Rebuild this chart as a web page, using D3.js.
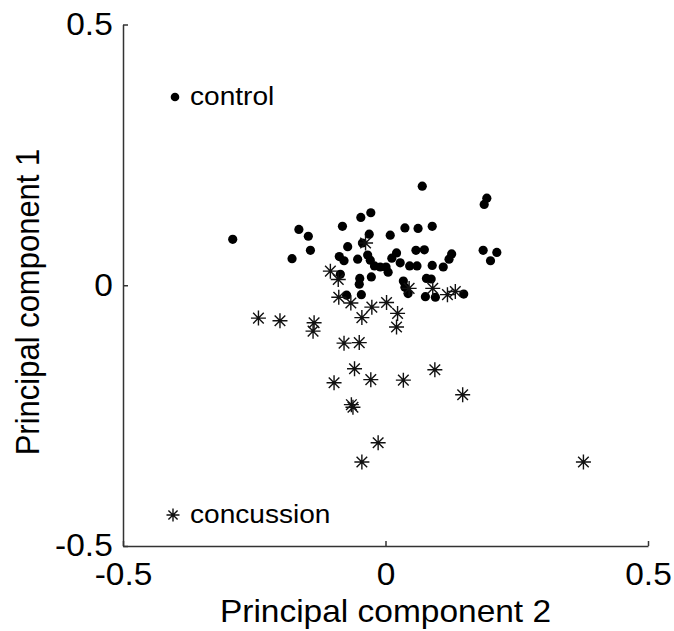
<!DOCTYPE html>
<html>
<head>
<meta charset="utf-8">
<script src="https://cdn.jsdelivr.net/npm/d3@7"></script>
<style>
  body { margin: 0; background: #fff; }
  text { font-family: Arial, "Liberation Sans", sans-serif; fill: #000; }
</style>
</head>
<body>
<div id="chart"></div>
<script>
// PC2 (x) and PC1 (y) scores
const controlX = [-0.291, -0.165, -0.147, -0.143, -0.178, -0.082, -0.047, -0.028, -0.031, 0.009,
  -0.072, -0.044, -0.088, -0.079, -0.053, -0.034, -0.029, -0.021, -0.010, 0.001,
  0.005, 0.021, 0.012, -0.086, -0.049, -0.050, -0.027, -0.074, -0.046, 0.070,
  0.193, 0.188, 0.037, 0.062, 0.089, 0.028, 0.046, 0.060, 0.058, 0.074,
  0.089, 0.110, 0.126, 0.121, 0.186, 0.212, 0.200, 0.034, 0.037, 0.043,
  0.078, 0.087, 0.076, 0.095, 0.149];
const controlY = [0.088, 0.107, 0.094, 0.067, 0.051, 0.113, 0.130, 0.139, 0.098, 0.096,
  0.074, 0.081, 0.055, 0.047, 0.050, 0.058, 0.048, 0.037, 0.035, 0.035,
  0.025, 0.062, 0.052, 0.021, 0.013, 0.002, 0.016, -0.019, -0.018, 0.190,
  0.167, 0.155, 0.110, 0.109, 0.113, 0.043, 0.037, 0.037, 0.067, 0.068,
  0.038, 0.035, 0.060, 0.050, 0.067, 0.063, 0.047, 0.008, -0.004, -0.016,
  0.013, 0.012, -0.022, -0.023, -0.017];

const concussionX = [-0.105, -0.090, -0.089, -0.066, -0.026, 0.002, 0.023, -0.242, -0.201, -0.136,
  -0.138, -0.045, 0.021, -0.038, 0.045, 0.090, 0.118, 0.133, -0.079, -0.050,
  -0.059, -0.098, -0.028, 0.034, 0.094, 0.147, -0.065, -0.062, -0.014, -0.045,
  0.377];
const concussionY = [0.027, 0.011, -0.023, -0.034, -0.042, -0.033, -0.054, -0.063, -0.068, -0.072,
  -0.088, -0.062, -0.080, 0.081, -0.006, -0.006, -0.018, -0.012, -0.111, -0.110,
  -0.160, -0.187, -0.181, -0.182, -0.162, -0.210, -0.229, -0.234, -0.302, -0.339,
  -0.339];

const tickValues = [-0.5, 0, 0.5];
const tickLabels = ["-0.5", "0", "0.5"];

const width = 674, height = 631;
const margin = { top: 24.5, right: 26, bottom: 85, left: 123 };
// the source figure is a little wider than tall, so text is stretched sideways
const stretch = 1.08;

const svg = d3.select("#chart").append("svg")
    .attr("width", width)
    .attr("height", height);

const x = d3.scaleLinear()
    .domain([-0.5, 0.5])
    .range([margin.left, width - margin.right]);

const y = d3.scaleLinear()
    .domain([-0.5, 0.5])
    .range([height - margin.bottom, margin.top]);

// axes, ticks pointing inward like MATLAB
const fmt = d => tickLabels[tickValues.indexOf(d)];

const xAxis = svg.append("g")
    .attr("transform", "translate(0," + y(-0.5) + ")")
    .call(d3.axisBottom(x).tickValues(tickValues).tickFormat(fmt)
        .tickSizeInner(-5).tickSizeOuter(0).tickPadding(17));

const yAxis = svg.append("g")
    .attr("transform", "translate(" + x(-0.5) + ",0)")
    .call(d3.axisLeft(y).tickValues(tickValues).tickFormat(fmt)
        .tickSizeInner(-5).tickSizeOuter(0).tickPadding(9.5));

[xAxis, yAxis].forEach(g => {
    g.select(".domain").attr("stroke", "#333").attr("stroke-width", 1.5);
    g.selectAll(".tick line").attr("stroke", "#333").attr("stroke-width", 1.5);
    g.selectAll(".tick text")
        .style("font-size", "31px")
        .attr("fill", "#000")
        .attr("transform", "scale(" + stretch + ",1)");
});
xAxis.selectAll(".tick text").attr("dy", "0.71em");

// axis titles
svg.append("text")
    .attr("transform", "translate(" + x(0) + ",622) scale(" + stretch + ",1)")
    .attr("text-anchor", "middle")
    .style("font-size", "31px")
    .text("Principal component 2");

svg.append("text")
    .attr("transform", "translate(39,302) scale(" + stretch + ",1) rotate(-90)")
    .attr("text-anchor", "middle")
    .style("font-size", "31px")
    .text("Principal component 1");

// asterisk marker: horizontal, vertical and two diagonal strokes
function star(g, cx, cy, r) {
    const d = r * Math.SQRT1_2;
    g.append("path")
        .attr("d", `M${cx - r},${cy}H${cx + r}M${cx},${cy - r}V${cy + r}` +
            `M${cx - d},${cy - d}L${cx + d},${cy + d}M${cx - d},${cy + d}L${cx + d},${cy - d}`)
        .attr("fill", "none")
        .attr("stroke", "#111")
        .attr("stroke-width", 1.4);
}

// control points
svg.append("g").selectAll("circle")
    .data(controlX.map((v, i) => [v, controlY[i]]))
    .enter().append("circle")
    .attr("cx", d => x(d[0]))
    .attr("cy", d => y(d[1]))
    .attr("r", 4.6)
    .attr("fill", "#000");

// concussion points
const stars = svg.append("g");
concussionX.forEach((v, i) => star(stars, x(v), y(concussionY[i]), 7.5));

// legend
svg.append("circle").attr("cx", 175).attr("cy", 97).attr("r", 4.3).attr("fill", "#000");
svg.append("text").attr("transform", "translate(190,105) scale(" + stretch + ",1)")
    .style("font-size", "26px").text("control");

star(svg, 173, 515, 6.5);
svg.append("text").attr("transform", "translate(190,523) scale(" + stretch + ",1)")
    .style("font-size", "26px").text("concussion");
</script>
</body>
</html>
